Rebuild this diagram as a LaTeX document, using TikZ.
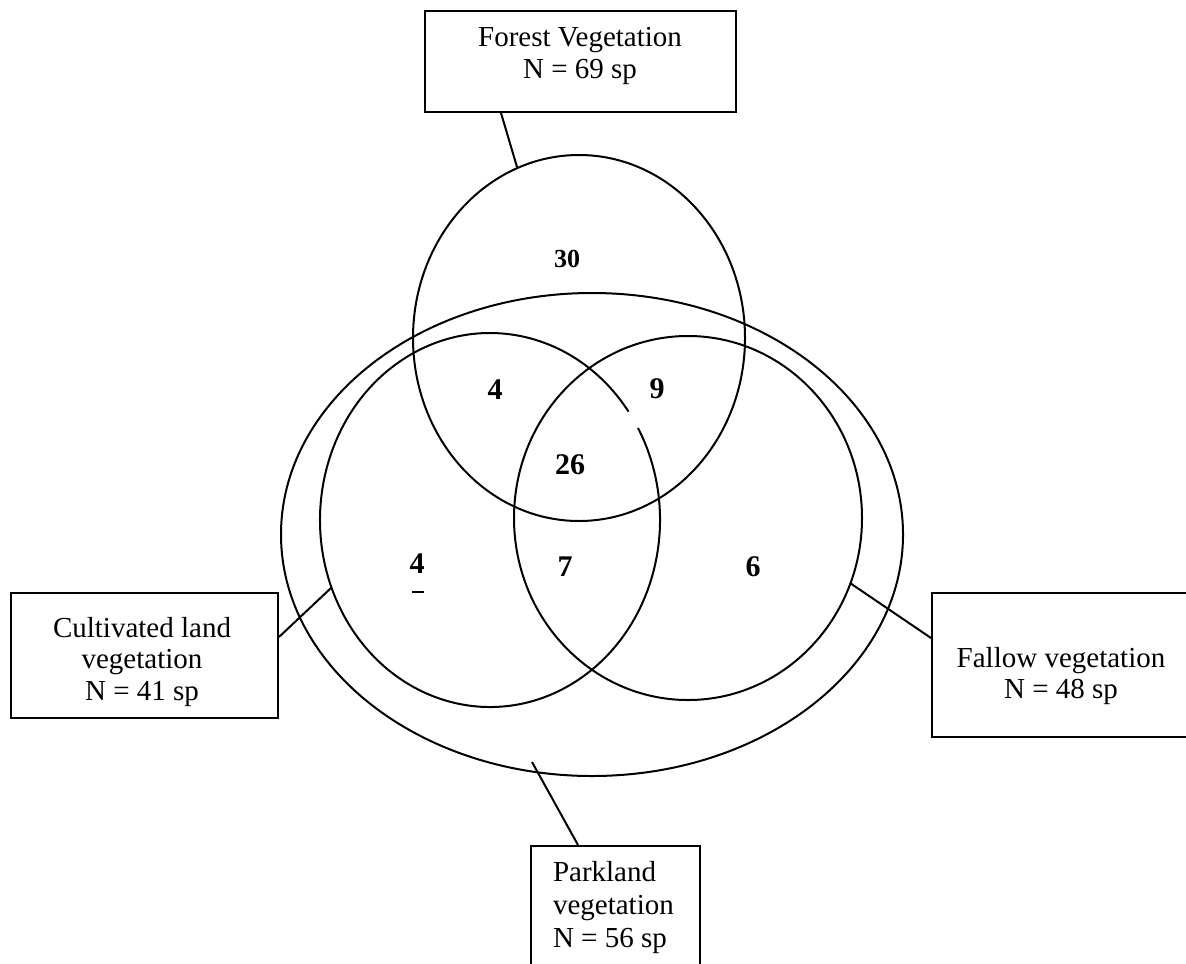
\documentclass[tikz,border=0pt]{standalone}
\usepackage{fontspec}
\setmainfont{Liberation Serif}
\usetikzlibrary{calc}
\newcommand{\boxfont}{\fontsize{14.5}{16}\selectfont}
\newcommand{\numfont}{\bfseries\fontsize{15}{18}\selectfont}
\newcommand{\numfontsmall}{\bfseries\fontsize{13}{16}\selectfont}
\begin{document}
\begin{tikzpicture}[x=0.5pt,y=-0.5pt,line width=1pt,
  lbox/.style={draw,line width=1pt,inner sep=0pt,anchor=north west},
  ltxt/.style={font=\boxfont,anchor=base,inner sep=0pt},
  ltxtw/.style={font=\boxfont,anchor=base west,inner sep=0pt},
  num/.style={font=\numfont,inner sep=0pt},
  numsmall/.style={font=\numfontsmall,inner sep=0pt},
  setline/.style={line width=1pt}]
\useasboundingbox (0,0) rectangle (1186,963);
\fill[white] (0,0) rectangle (1186,963);

% sets
\draw[setline] (579,338) ellipse [x radius=166, y radius=183];
\draw[setline] (592,534.5) ellipse [x radius=311, y radius=241.5];
\draw[setline] (688,518) ellipse [x radius=174, y radius=182];
\draw[setline] ($(490,520)+(-29.5:170 and 187)$) arc[start angle=-29.5, end angle=324.6, x radius=170, y radius=187];

% boxes
\node[lbox,minimum width=155.5pt,minimum height=50.5pt] (forestbox) at (424,10) {};
\node[lbox,minimum width=133.5pt,minimum height=62.5pt] (cultbox) at (10,592) {};
\node[lbox,minimum width=132pt,minimum height=72pt] (fallbox) at (931,592) {};
\node[lbox,minimum width=84.5pt,minimum height=65pt] (parkbox) at (530,845) {};

% box texts
\node[ltxt] (ft1) at (580,47) {Forest Vegetation};
\node[ltxt] (ft2) at (580,78) {N = 69 sp};
\node[ltxt] (ct1) at (142,637) {Cultivated land};
\node[ltxt] (ct2) at (142,668) {vegetation};
\node[ltxt] (ct3) at (142,700) {N = 41 sp};
\node[ltxt] (wt1) at (1061,667) {Fallow vegetation};
\node[ltxt] (wt2) at (1061,698) {N = 48 sp};
\node[ltxtw] (pt1) at (552,881) {Parkland};
\node[ltxtw] (pt2) at (552,914) {vegetation};
\node[ltxtw] (pt3) at (552,947) {N = 56 sp};

% connector ends
\coordinate (fcon) at (517,167);
\coordinate (lcon) at (331,588);
\coordinate (rcon) at (850,583);
\coordinate (econ) at (532,762);
\draw[setline] ($(forestbox.south west)+(77,0)$) -- (fcon);
\draw[setline] ($(cultbox.north east)+(0,45)$) -- (lcon);
\draw[setline] ($(fallbox.north west)+(0,46)$) -- (rcon);
\draw[setline] ($(parkbox.north west)+(48,0)$) -- (econ);

% numbers
\node[numsmall] (n30) at (567,259) {30};
\node[num] (n4a) at (495,390) {4};
\node[num] (n9) at (657,389) {9};
\node[num] (n26) at (570,465) {26};
\node[num] (n4b) at (417,564) {4};
\draw[line width=1.1pt] (412,592) -- (424,592);
\node[num] (n7) at (565,567) {7};
\node[num] (n6) at (753,567) {6};
\end{tikzpicture}
\end{document}
